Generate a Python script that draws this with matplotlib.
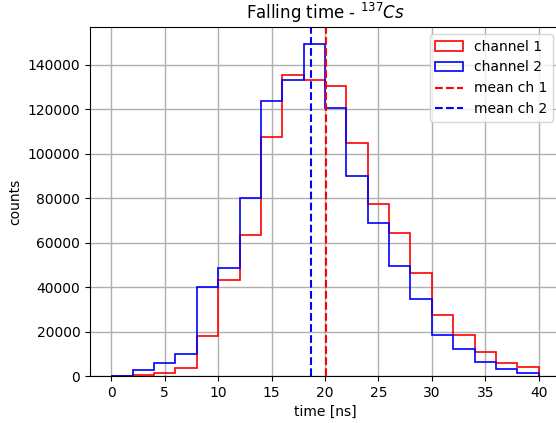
import numpy as np
import matplotlib
matplotlib.use("Agg")
import matplotlib.pyplot as plt

edges = np.arange(0, 42, 2)

ch1_counts = [0, 500, 1500, 3500, 18000, 43000, 63500, 107500, 135500, 133000,
              130500, 105000, 77500, 64500, 46500, 27500, 18500, 11000, 6000, 4000]
ch2_counts = [0, 2500, 6000, 10000, 40000, 48500, 80000, 123500, 133000, 149500,
              120500, 90000, 69000, 49500, 34500, 18500, 12000, 6500, 3000, 1500]

mean_ch1 = 20.1
mean_ch2 = 18.7

fig = plt.figure(figsize=(5.56, 4.23), dpi=100)
ax = fig.add_axes([90 / 556, 47 / 423, 470 / 556, 349 / 423])

ax.hist(edges[:-1], bins=edges, weights=ch1_counts, histtype="step",
        color="red", linewidth=1.2, label="channel 1")
ax.hist(edges[:-1], bins=edges, weights=ch2_counts, histtype="step",
        color="blue", linewidth=1.2, label="channel 2")

ax.axvline(mean_ch1, color="red", linestyle="--", linewidth=1.5, label="mean ch 1")
ax.axvline(mean_ch2, color="blue", linestyle="--", linewidth=1.5, label="mean ch 2")

ax.set_xlim(-2, 42)
ax.set_xticks(np.arange(0, 45, 5))
ax.set_xlabel("time [ns]")
ax.set_ylabel("counts")
ax.set_title("Falling time - $^{137}Cs$")

ax.grid(True, linewidth=1.0)
ax.set_axisbelow(True)
ax.legend(loc="upper right")

fig.savefig("out.png", dpi=100)
plt.close(fig)
